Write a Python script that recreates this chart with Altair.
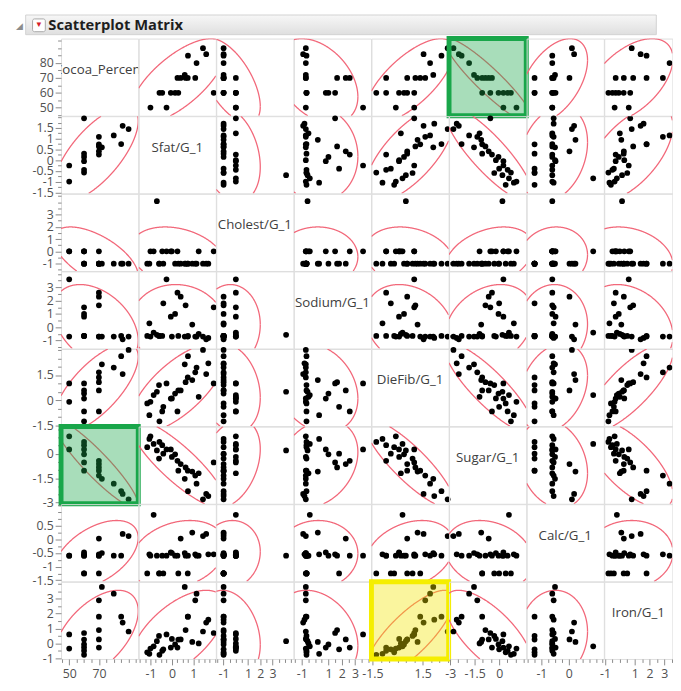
import altair as alt
import numpy as np
import pandas as pd

# ---------------- data ----------------
var_names = ["Cocoa_Percent", "Sfat/G_1", "Cholest/G_1", "Sodium/G_1",
             "DieFib/G_1", "Sugar/G_1", "Calc/G_1", "Iron/G_1"]

cocoa   = [50, 50, 60, 60, 60, 60, 60, 60, 70, 70, 70, 70, 70, 72, 80, 85, 86, 90,
           None, None, None, None, None, None, None, None, None, None]
sfat    = [-0.25, -1.0, -0.58, -0.45, -0.05, 0.15, 1.95, 0.3, 0.26, 0.41, 0.64, 0.74, 1.09, 0.6, 1.15, 0.75, 1.6, 1.45,
           -0.7, -1.15, -0.85, -0.6, 0.95, 1.25, -1.05, 1.7, -0.4, 0.0]
cholest = [0, 0, -1, 0, 0, -1, 0, -1, 0, -1, -1, -1, -1, -1, -1, -1, -1, -1,
           4.1, -1, 0, -1, -1, 0, -1, -1, -1, 0]
sodium  = [3.6, -0.7, -0.65, -0.65, 0.8, 1.0, 1.5, -0.65, 2.6, 2.3, 1.65, -0.7, -0.7, -0.7, -0.7, -0.65, -0.9, -0.7,
           -0.57, -0.65, -0.4, -0.65, 0.2, -0.5, 0.3, -0.8, 1.8, -0.7]
diefib  = [1.0, -0.1, -1.27, -0.68, 0.09, 0.39, 1.0, 0.58, -0.68, 0.58, 1.07, 1.36, 1.66, 2.14, 1.95, 2.63, 1.56, 3.0,
           0.5, -0.2, 0.3, 0.9, 1.2, 0.2, -0.9, 2.2, -0.4, 0.1]
sugar   = [0.26, 1.06, 0.72, 0.52, 0.26, -0.04, -0.54, -1.04, -0.44, -0.64, -0.84, -1.04, -1.34, -1.54, -1.84, -2.3, -2.47, -2.8,
           0.2, 0.4, 0.6, -0.3, -1.1, -1.2, 0.9, -2.6, 0.0, -0.2]
calc    = [-0.6, -0.6, -1.25, -0.6, -0.48, -0.6, -0.55, -1.25, -0.6, 0.03, -0.6, -1.25, -0.55, -0.5, -0.6, -0.6, 0.2, 0.12,
           -0.6, -1.25, 0.9, -1.25, 0.25, -0.6, -0.55, -0.55, -1.25, -0.5]
iron    = [0.6, -0.35, -0.77, -0.5, -0.28, -0.07, 0.7, 0.26, -0.28, 0.27, 0.9, 1.8, 2.9, 3.8, 3.35, 1.8, 1.4, 0.8,
           0.15, -0.6, -0.2, 0.5, 0.1, 0.0, -0.7, 1.6, -0.4, 0.3]

series = [cocoa, sfat, cholest, sodium, diefib, sugar, calc, iron]

# axis ranges, tick spacing and labelled ticks (y axis / x axis)
domains = [[44.5, 96.5], [-1.55, 2.05], [-1.6, 4.7], [-1.6, 4.2],
           [-1.56, 3.06], [-3.07, 1.66], [-1.54, 1.29], [-1.05, 4.15]]
tick_steps = [5, 0.25, 0.5, 0.5, 0.5, 0.5, 0.25, 0.5]
y_labels = [[50, 60, 70, 80], [-1.5, -1, -0.5, 0, 0.5, 1, 1.5], [-1, 0, 1, 2, 3], [-1, 0, 1, 2, 3],
            [-1.5, 0, 1.5], [-3, -1.5, 0], [-1.5, -1, -0.5, 0, 0.5], [-1, 0, 1, 2, 3]]
x_labels = [[50, 70], [-1, 0, 1], [-1, 1, 2, 3], [-1, 1, 2, 3],
            [-1.5, 1.5], [-3, -1.5, 0], [-1, 0], [-1, 1, 2, 3]]

green_cells = [(0, 5), (5, 0)]
yellow_cells = [(7, 4)]

# ---------------- layout / style ----------------
FONT = "Open Sans"
W = 78.6
H = 78.6
W_LAST = 69.4
N = len(var_names)
keys = [f"v{i}" for i in range(N)]

df = pd.DataFrame({k: pd.Series(s, dtype="float") for k, s in zip(keys, series)})
one = pd.DataFrame({"a": [0]})


def domain_of(i, last=False):
    lo, hi = domains[i]
    if last:
        hi = lo + (hi - lo) * W_LAST / W
    return lo, hi


def tick_values(i, lo, hi):
    st = tick_steps[i]
    v = np.ceil(lo / st) * st
    vals = []
    while v <= hi + 1e-9:
        vals.append(round(float(v), 3))
        v += st
    return vals


def scale_for(i, last=False):
    lo, hi = domain_of(i, last)
    return alt.Scale(domain=[lo, hi], nice=False, zero=False)


def axis_for(i, labels, orient, last=False):
    lo, hi = domain_of(i, last)
    arr = "[" + ",".join(str(v) for v in labels) + "]"
    test = f"indexof({arr}, datum.value) >= 0"
    return alt.Axis(
        values=tick_values(i, lo, hi),
        labelExpr=f"{test} ? '' + datum.value : ''",
        tickSize={"condition": {"test": test, "value": 6}, "value": 3.5},
        domain=False, grid=False, labelOverlap=False, labelFlush=False,
        tickColor="#8a8a8a", tickWidth=1, labelColor="#505050",
        labelFont=FONT, labelFontSize=12.5, labelPadding=2 if orient == "left" else 2.5,
        orient=orient)


def xy(r, c, xfield, yfield):
    last = c == N - 1
    xax = axis_for(c, x_labels[c], "bottom", last) if r == N - 1 else None
    yax = axis_for(r, y_labels[r], "left") if c == 0 else None
    return dict(
        x=alt.X(f"{xfield}:Q", scale=scale_for(c, last), axis=xax, title=None),
        y=alt.Y(f"{yfield}:Q", scale=scale_for(r), axis=yax, title=None),
    )


def clip_segment(x0, y0, x1, y1, box):
    xmin, xmax, ymin, ymax = box
    dx, dy = x1 - x0, y1 - y0
    u0, u1 = 0.0, 1.0
    for p, q in ((-dx, x0 - xmin), (dx, xmax - x0), (-dy, y0 - ymin), (dy, ymax - y0)):
        if p == 0:
            if q < 0:
                return None
        else:
            t = q / p
            if p < 0:
                u0 = max(u0, t)
            else:
                u1 = min(u1, t)
    if u0 > u1:
        return None
    return u0, u1, (x0 + u0 * dx, y0 + u0 * dy), (x0 + u1 * dx, y0 + u1 * dy)


def ellipse_frame(ix, iy, last):
    """95% bivariate-normal density ellipse of the data, cut to the cell."""
    xs = np.array(series[ix], dtype=float)
    ys = np.array(series[iy], dtype=float)
    mx, my = np.nanmean(xs), np.nanmean(ys)
    sx, sy = np.nanstd(xs, ddof=1), np.nanstd(ys, ddof=1)
    m = ~np.isnan(xs) & ~np.isnan(ys)
    rho = np.corrcoef(xs[m], ys[m])[0, 1]
    cov = np.array([[sx * sx, rho * sx * sy], [rho * sx * sy, sy * sy]])
    L = np.linalg.cholesky(cov)
    k = np.sqrt(5.991)
    t = np.linspace(0, 2 * np.pi, 721)
    pts = k * (L @ np.vstack([np.cos(t), np.sin(t)]))
    px, py = pts[0] + mx, pts[1] + my
    xlo, xhi = domain_of(ix, last)
    ylo, yhi = domain_of(iy)
    box = (xlo, xhi, ylo, yhi)
    recs = []
    seg, k_idx, open_line = 0, 0, False
    for a in range(len(px) - 1):
        res = clip_segment(px[a], py[a], px[a + 1], py[a + 1], box)
        if res is None:
            open_line = False
            continue
        u0, u1, s, e = res
        if not (open_line and u0 == 0.0):
            seg += 1
            recs.append({"x": s[0], "y": s[1], "seg": seg, "k": k_idx})
            k_idx += 1
        recs.append({"x": e[0], "y": e[1], "seg": seg, "k": k_idx})
        k_idx += 1
        open_line = u1 == 1.0
    return pd.DataFrame(recs)


def header_layers():
    """Title bar drawn above the first cell (origin = top-left of the matrix)."""
    grad = alt.Gradient(gradient="linear",
                        stops=[alt.GradientStop(color="#f7f7f7", offset=0),
                               alt.GradientStop(color="#dfdfdf", offset=1)],
                        x1=0, x2=0, y1=0, y2=1)
    return [
        alt.Chart(one).mark_rect(fill="#ffffff", fillOpacity=0, strokeOpacity=0).encode(
            x=alt.value(-53), x2=alt.value(-50), y=alt.value(-24), y2=alt.value(-22)),
        alt.Chart(one).mark_rect(fill=grad, stroke="#d2d2d2", strokeWidth=1).encode(
            x=alt.value(-36), x2=alt.value(606), y=alt.value(-24), y2=alt.value(-4)),
        alt.Chart(one).mark_text(text="◢", fontSize=9, color="#8c8c8c", baseline="middle").encode(
            x=alt.value(-42), y=alt.value(-13)),
        alt.Chart(one).mark_rect(fill="#ffffff", stroke="#a8a8a8", strokeWidth=1, cornerRadius=2).encode(
            x=alt.value(-29), x2=alt.value(-16), y=alt.value(-20), y2=alt.value(-7)),
        alt.Chart(one).mark_text(text="▼", fontSize=8, color="#d62028", baseline="middle").encode(
            x=alt.value(-22.5), y=alt.value(-13.5)),
        alt.Chart(one).mark_text(text="Scatterplot Matrix", font=FONT, fontSize=15, fontWeight="bold",
                                 color="#1e1e1e", align="left", baseline="middle").encode(
            x=alt.value(-13), y=alt.value(-14)),
    ]


def cell(r, c):
    last = c == N - 1
    w = W_LAST if last else W
    if r == c:
        base = alt.Chart(df).mark_circle(opacity=0, clip=True).encode(**xy(r, c, keys[c], keys[r]))
        label = alt.Chart(one).mark_text(
            text=var_names[r], font=FONT, fontSize=13.5, color="#404040",
            align="center", baseline="middle", clip=True
        ).encode(x=alt.value(w / 2), y=alt.value(32))
        layers = [base, label]
        if r == 0:
            layers += header_layers()
        return alt.layer(*layers).properties(width=w, height=H)

    hl = None
    if (r, c) in green_cells:
        hl = ("#19a64a", "#19a64a")
    elif (r, c) in yellow_cells:
        hl = ("#f2e600", "#f5ee00")

    edf = ellipse_frame(c, r, last)
    ell = alt.Chart(edf).mark_line(color="#f2687a", strokeWidth=1.3, clip=True).encode(
        detail=alt.Detail("seg:N"), order=alt.Order("k:Q"), **xy(r, c, "x", "y"))
    pts = alt.Chart(df).mark_circle(size=34, color="#000000", opacity=1, clip=last).encode(
        **xy(r, c, keys[c], keys[r]))
    layers = [ell, pts]
    if hl is not None:
        box = alt.Chart(one).mark_rect(
            fill=hl[0], fillOpacity=0.38, stroke=hl[1], strokeWidth=5
        ).encode(x=alt.value(0), x2=alt.value(w), y=alt.value(0), y2=alt.value(H))
        layers.append(box)
    return alt.layer(*layers).properties(width=w, height=H)


cells = [cell(r, c) for r in range(N) for c in range(N)]
chart = alt.concat(*cells, columns=N, spacing=0, bounds="flush").properties(
    padding={"left": 0, "top": 0, "right": 0, "bottom": 0}
).configure_view(stroke="#c6c6c6", strokeWidth=1).configure(background="#ffffff")

chart.save("out.html", embed_options={"renderer": "svg", "actions": False})
